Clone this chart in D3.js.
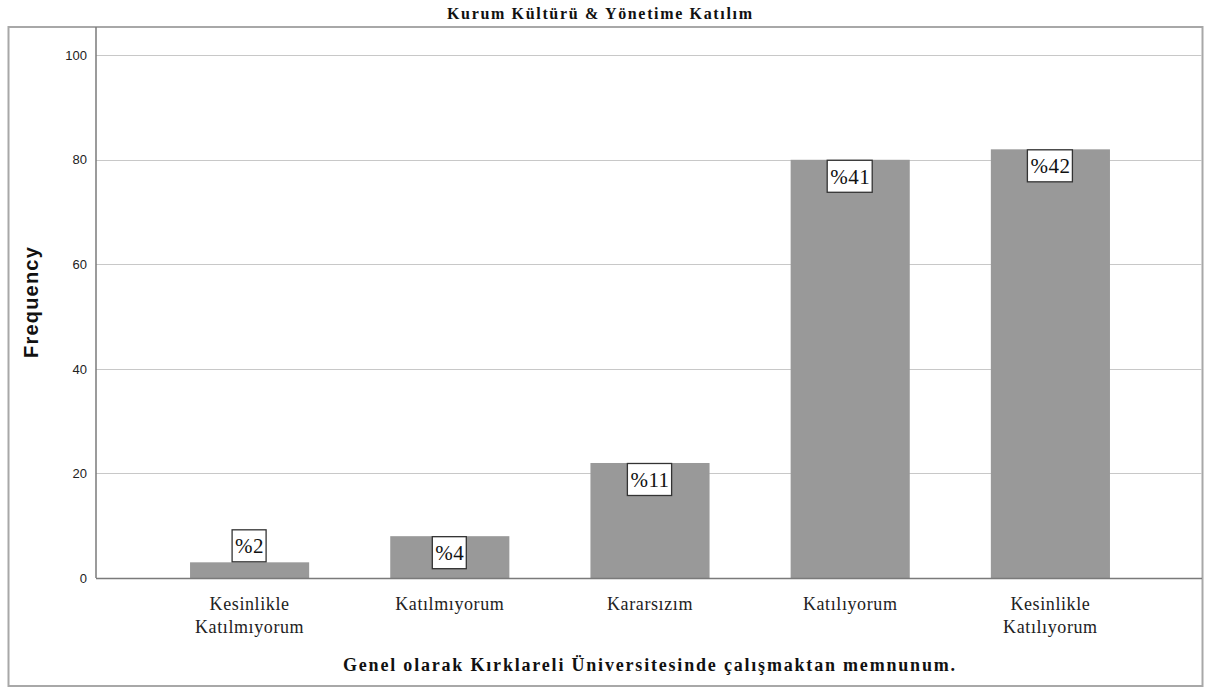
<!DOCTYPE html>
<html><head><meta charset="utf-8">
<script src="https://cdn.jsdelivr.net/npm/d3@7"></script>
<style>body{margin:0;background:#fff}svg{display:block}</style>
</head><body>
<script>
const categories = ["Kesinlikle\nKatılmıyorum","Katılmıyorum","Kararsızım","Katılıyorum","Kesinlikle\nKatılıyorum"];
const frequencies = [3, 8, 22, 80, 82];
const percentLabels = ["%2","%4","%11","%41","%42"];
const yTicks = [0,20,40,60,80,100];
const titleText = "Kurum Kültürü & Yönetime Katılım";
const xTitle = "Genel olarak Kırklareli Üniversitesinde çalışmaktan memnunum.";
const yTitle = "Frequency";

const SERIF = "'Liberation Serif', 'Times New Roman', 'DejaVu Serif', serif";
const SANS = "'Liberation Sans', Arial, sans-serif";

const W = 1208, H = 691;
const svg = d3.select("body").append("svg").attr("width", W).attr("height", H);

const plot = {left: 96, right: 1202, top: 27, bottom: 578};
const y = d3.scaleLinear().domain([0, 105.4]).range([plot.bottom, plot.top]);
const x = d3.scaleBand().domain(categories).range([150, 1150]).paddingInner(0.405).paddingOuter(0.2);

// outer frame
svg.append("rect").attr("x", 8.5).attr("y", 27).attr("width", 1194).attr("height", 659)
  .attr("fill", "none").attr("stroke", "#a8a8a8").attr("stroke-width", 2);

// title
svg.append("text").attr("x", 447).attr("y", 19)
  .attr("font-family", SERIF).attr("font-weight", "bold")
  .attr("font-size", 16).attr("fill", "#111")
  .attr("textLength", 305).attr("lengthAdjust", "spacing").text(titleText);

// gridlines
svg.append("g").selectAll("line").data(yTicks.filter(d => d > 0)).join("line")
  .attr("x1", plot.left).attr("x2", plot.right)
  .attr("y1", d => Math.round(y(d)) + 0.5).attr("y2", d => Math.round(y(d)) + 0.5)
  .attr("stroke", "#c8c8c8").attr("stroke-width", 1.2);

// y axis
const yAxis = d3.axisLeft(y).tickValues(yTicks).tickSize(0).tickPadding(9);
const ga = svg.append("g").attr("transform", `translate(${plot.left},0)`).call(yAxis);
ga.select(".domain").remove();
ga.selectAll("text").attr("font-family", SANS).attr("font-size", 13).attr("fill", "#222");

// bars
svg.append("g").selectAll("rect").data(frequencies).join("rect")
  .attr("x", (d, i) => x(categories[i])).attr("width", x.bandwidth())
  .attr("y", d => y(d)).attr("height", d => y(0) - y(d))
  .attr("fill", "#999999");

// axis lines
svg.append("line").attr("x1", plot.left).attr("x2", plot.left).attr("y1", plot.top).attr("y2", plot.bottom)
  .attr("stroke", "#7a7a7a").attr("stroke-width", 1.5);
svg.append("line").attr("x1", plot.left).attr("x2", plot.right).attr("y1", plot.bottom + 0.5).attr("y2", plot.bottom + 0.5)
  .attr("stroke", "#7a7a7a").attr("stroke-width", 1.5);

// percent label boxes
const lab = svg.append("g").selectAll("g").data(frequencies).join("g")
  .attr("transform", (d, i) => {
    const cx = x(categories[i]) + x.bandwidth() / 2;
    let top = y(d);
    if (top + 33 > plot.bottom) top = y(d) - 33;
    return `translate(${cx},${top})`;
  });
lab.append("text").attr("text-anchor", "middle").attr("y", 24)
  .attr("font-family", SERIF).attr("font-size", 21).attr("fill", "#111")
  .attr("letter-spacing", 0.5)
  .text((d, i) => percentLabels[i]);
lab.each(function() {
  const g = d3.select(this);
  const bb = g.select("text").node().getBBox();
  g.insert("rect", "text").attr("x", bb.x - 3).attr("y", 0.5).attr("width", bb.width + 5).attr("height", 32)
    .attr("fill", "#fff").attr("stroke", "#333").attr("stroke-width", 1.3);
});

// x tick labels
const xl = svg.append("g").selectAll("text").data(categories).join("text")
  .attr("text-anchor", "middle")
  .attr("font-family", SERIF).attr("font-size", 18).attr("fill", "#222")
  .attr("letter-spacing", 0.6)
  .attr("transform", d => `translate(${x(d) + x.bandwidth() / 2},${610})`);
xl.selectAll("tspan").data(d => d.split("\n")).join("tspan")
  .attr("x", 0).attr("dy", (d, i) => i === 0 ? 0 : 23).text(d => d);

// axis titles
svg.append("text").attr("x", 343).attr("y", 671)
  .attr("font-family", SERIF).attr("font-weight", "bold")
  .attr("font-size", 18).attr("fill", "#111")
  .attr("textLength", 612).attr("lengthAdjust", "spacing").text(xTitle);
svg.append("text").attr("transform", "translate(38,302) rotate(-90)").attr("text-anchor", "middle")
  .attr("font-family", SANS).attr("font-weight", "bold")
  .attr("font-size", 20).attr("letter-spacing", 1.2).attr("fill", "#111").text(yTitle);
</script>
</body></html>
